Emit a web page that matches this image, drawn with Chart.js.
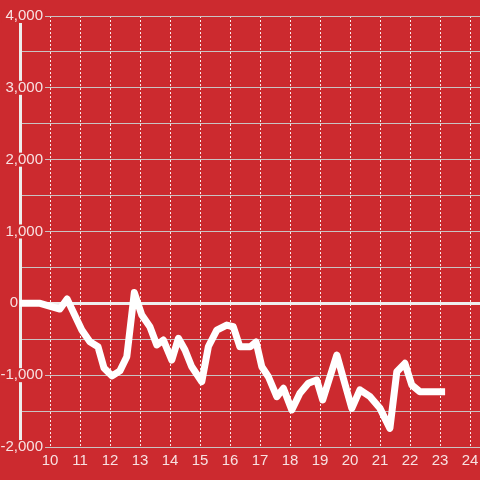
<!DOCTYPE html>
<html><head><meta charset="utf-8">
<script src="https://cdn.jsdelivr.net/npm/chart.js@4"></script>
<style>html,body{margin:0;padding:0;background:#cc2a2f;} canvas{display:block}</style>
</head><body>
<canvas id="c" width="480" height="480"></canvas>
<script>
const days = [8.9, 9.67, 10.33, 10.57, 11.06, 11.33, 11.6, 11.8, 12.07, 12.33, 12.56, 12.81, 13.06, 13.33, 13.56, 13.78, 14.06, 14.28, 14.5, 14.72, 15.06, 15.28, 15.56, 15.89, 16.11, 16.33, 16.67, 16.87, 17.06, 17.28, 17.56, 17.78, 18.06, 18.33, 18.61, 18.89, 19.09, 19.56, 20.06, 20.33, 20.67, 21.0, 21.33, 21.56, 21.83, 22.06, 22.33, 23.17];
const values = [0, 0, -80, 60, -372, -535, -604, -900, -1010, -940, -743, 150, -163, -326, -580, -511, -790, -487, -650, -880, -1091, -601, -372, -302, -326, -606, -606, -539, -883, -1022, -1300, -1183, -1485, -1253, -1114, -1068, -1346, -720, -1462, -1204, -1300, -1462, -1740, -952, -835, -1137, -1231, -1231];
const xTickValues = [10, 11, 12, 13, 14, 15, 16, 17, 18, 19, 20, 21, 22, 23, 24];
const yTickValues = [-2000, -1500, -1000, -500, 0, 500, 1000, 1500, 2000, 2500, 3000, 3500, 4000];
const yLabelValues = [-2000, -1000, 0, 1000, 2000, 3000, 4000];

const RED = '#cc2a2f';
const TEXT = 'rgba(255,255,255,0.86)';
Chart.defaults.font.family = "'Liberation Sans', Arial, sans-serif";

const bg = {
  id: 'bg',
  beforeDraw(chart) {
    const ctx = chart.ctx;
    ctx.save();
    ctx.fillStyle = RED;
    ctx.fillRect(0, 0, chart.width, chart.height);
    ctx.restore();
  }
};

new Chart(document.getElementById('c'), {
  type: 'line',
  data: {
    datasets: [{
      data: days.map((d, i) => ({x: d, y: values[i]})),
      borderColor: '#ffffff',
      borderWidth: 7,
      borderJoinStyle: 'round',
      pointRadius: 0,
      tension: 0,
      fill: false
    }]
  },
  options: {
    responsive: false,
    animation: false,
    layout: {padding: {top: 16, left: 0, right: 0, bottom: 0}},
    plugins: {legend: {display: false}, tooltip: {enabled: false}},
    scales: {
      x: {
        type: 'linear',
        min: 9,
        max: 24.333,
        afterBuildTicks: axis => { axis.ticks = xTickValues.map(v => ({value: v})); },
        afterFit: s => { s.height = 33; s.paddingLeft = 0; s.paddingRight = 0; },
        border: {display: false, dash: [2, 2]},
        grid: {color: 'rgba(255,255,255,0.9)', lineWidth: 1, drawTicks: false},
        ticks: {color: TEXT, font: {size: 15}, padding: 4.5, maxRotation: 0, autoSkip: false}
      },
      y: {
        type: 'linear',
        min: -2000,
        max: 4000,
        afterBuildTicks: axis => { axis.ticks = yTickValues.map(v => ({value: v})); },
        afterFit: s => { s.width = 20; },
        border: {display: true, color: '#eeeeee', width: 3},
        grid: {
          drawTicks: false,
          color: ctx => ctx.tick && ctx.tick.value === 0 ? '#eeeeee' : '#c9c3c3',
          lineWidth: ctx => ctx.tick && ctx.tick.value === 0 ? 3 : 1
        },
        ticks: {
          color: TEXT,
          font: {size: 15},
          mirror: true,
          crossAlign: 'far',
          padding: -19.5,
          autoSkip: false,
          showLabelBackdrop: ctx => yLabelValues.includes(ctx.tick.value) && ctx.tick.value !== 0,
          backdropColor: RED,
          backdropPadding: {top: -2, bottom: -2, left: 4, right: 2},
          callback: v => yLabelValues.includes(v) ? (v === 0 ? '0      ' : v.toLocaleString('en-US')) : ''
        }
      }
    }
  },
  plugins: [bg]
});
</script>
</body></html>
